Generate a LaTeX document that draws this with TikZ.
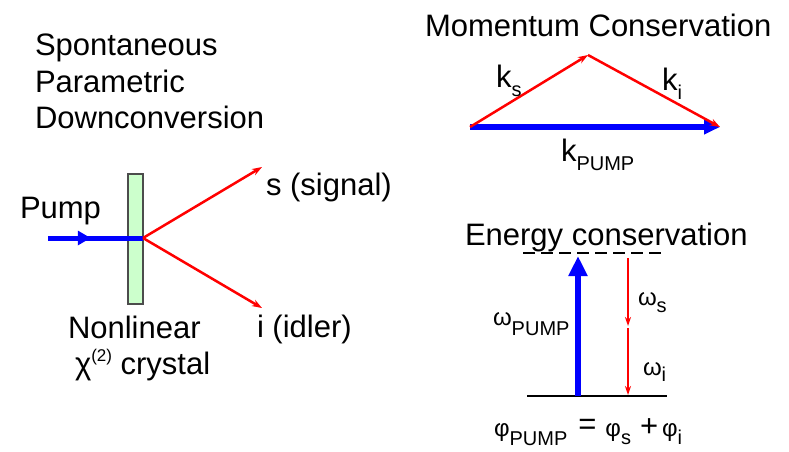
\documentclass[tikz,border=0pt]{standalone}
\usepackage{fontspec}
\setmainfont{Liberation Sans}
\usetikzlibrary{arrows.meta,decorations.markings}
\newcommand\lowsub[2][9pt]{\raisebox{-#1}{\fontsize{20}{20}\selectfont #2}}
\newcommand\highsup[1]{\raisebox{0.4em}{\fontsize{17}{17}\selectfont #1}}
\newcommand\grk[1]{{\fontsize{24}{24}\selectfont #1}}
\definecolor{crystalgreen}{RGB}{204,255,204}
\begin{document}
\begin{tikzpicture}[x=1pt,y=-1pt,
  lbl/.style={inner sep=0pt, outer sep=0pt, font=\fontsize{31}{36}\selectfont, text=black},
  redray/.style={draw=red, line width=2.5pt, -{Stealth[length=10pt,width=7pt]}},
  bluebeam/.style={draw=blue, line width=6pt},
]
\useasboundingbox (0,0) rectangle (789,451);

% ---------- left: SPDC ----------
\node[lbl, anchor=base west] (t1) at (35,55) {Spontaneous};
\node[lbl, anchor=base west] (t2) at (35,92) {Parametric};
\node[lbl, anchor=base west] (t3) at (35,128) {Downconversion};

\node[draw=black!70, line width=1.5pt, fill=crystalgreen, minimum width=15pt, minimum height=130pt, inner sep=0pt] (crystal) at (135.5,239) {};
\coordinate (pumpstart) at (48,238);
\coordinate (cc) at (143,238);
\coordinate (sigend) at (262,167);
\coordinate (idlend) at (262,308);

\draw[draw=blue, line width=5pt,
  postaction={decorate, decoration={markings, mark=at position 0.45 with {\arrow{Triangle[length=13pt,width=14pt]}}}}]
  (pumpstart) -- (cc);
\draw[redray] (cc) -- (sigend);
\draw[redray] (cc) -- (idlend);

\node[lbl, anchor=base west] (pump) at (20,218) {Pump};
\node[lbl, anchor=base west] (sig) at (266,195) {s (signal)};
\node[lbl, anchor=base west] (idl) at (257,337) {i (idler)};
\node[lbl, anchor=base west] (nl) at (68,338) {Nonlinear};
\node[lbl, anchor=base west] (chi) at (75,374) {χ\highsup{(2)} crystal};

% ---------- right top: momentum ----------
\node[lbl, anchor=base west] (mom) at (425,36) {Momentum Conservation};
\coordinate (ka) at (470,127);
\coordinate (kb) at (588,55);
\coordinate (kc) at (720,127);
\draw[bluebeam, -{Triangle[length=16pt,width=14pt]}] (ka) -- (kc);
\draw[redray] (ka) -- (kb);
\draw[redray] (kb) -- (kc);
\node[lbl, anchor=base west] (ks) at (496,87) {k\lowsub{s}};
\node[lbl, anchor=base west] (ki) at (662,90) {k\lowsub{i}};
\node[lbl, anchor=base west] (kp) at (561,161) {k\lowsub{PUMP}};

% ---------- right bottom: energy ----------
\node[lbl, anchor=base west] (en) at (465,245) {Energy conservation};
\coordinate (dl) at (523,253);
\coordinate (dr) at (662,253);
\coordinate (gl) at (527,396);
\coordinate (gr) at (667,396);
\draw[black, line width=2pt, dash pattern=on 12pt off 6pt] (dl) -- (dr);
\draw[black, line width=1.5pt] (gl) -- (gr);
\coordinate (wpb) at (578,396);
\coordinate (wpt) at (578,256);
\draw[bluebeam, -{Triangle[length=20pt,width=18pt]}] (wpb) -- (wpt);
\coordinate (r1) at (628,258);
\coordinate (r2) at (628,326);
\coordinate (r3) at (628,328);
\coordinate (r4) at (628,395);
\draw[draw=red, line width=2pt, -{Stealth[length=9pt,width=6pt]}] (r1) -- (r2);
\draw[draw=red, line width=2pt, -{Stealth[length=9pt,width=6pt]}] (r3) -- (r4);
\node[lbl, anchor=base west] (wp) at (493,325) {\grk{ω}\lowsub[10pt]{PUMP}};
\node[lbl, anchor=base west] (ws) at (638,305) {\grk{ω}\lowsub[7pt]{s}};
\node[lbl, anchor=base west] (wi) at (643,375) {\grk{ω}\lowsub[6pt]{i}};
\node[lbl, anchor=base west] (eq) at (494,436) {\grk{φ}\lowsub[9pt]{PUMP}\hspace{11pt}\raisebox{2pt}{=}\hspace{9pt}\grk{φ}\lowsub[8pt]{s}\hspace{9pt}+\hspace{4pt}\grk{φ}\lowsub[8pt]{i}};
\end{tikzpicture}
\end{document}
